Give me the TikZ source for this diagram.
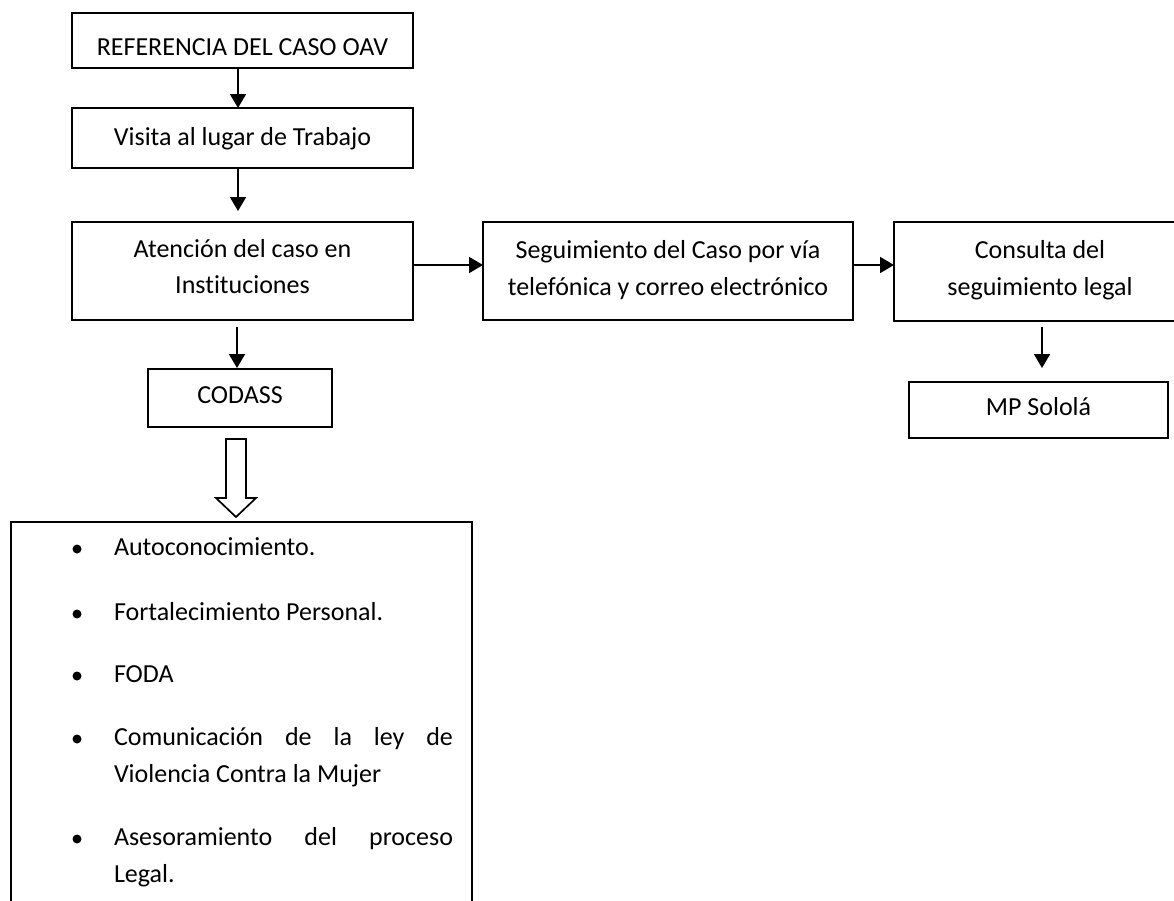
\documentclass[tikz,border=0pt]{standalone}
\usepackage{fontspec}
\setmainfont[Ligatures={NoCommon}]{Carlito}
\usetikzlibrary{arrows.meta}
\tikzset{
  box/.style={draw, line width=1.7pt, inner sep=0pt, outer sep=0pt},
  openbox/.style={inner sep=0pt, outer sep=0pt},
  txt/.style={inner sep=0pt, outer sep=0pt, anchor=base, font=\fontsize{26}{31}\selectfont},
  itm/.style={inner sep=0pt, outer sep=0pt, anchor=base west, font=\fontsize{26}{31}\selectfont},
  arr/.style={line width=1.8pt, -{Triangle[length=14pt,width=16pt]}},
  bul/.style={fill=black, circle, inner sep=0pt, minimum size=9pt}
}
\begin{document}
\begin{tikzpicture}[x=1pt,y=-1pt]
\useasboundingbox (0,0) rectangle (1174,900);
\clip (0,0) rectangle (1174,900);
% boxes
\node[box, minimum width=341pt, minimum height=55pt] (b1) at (242.5,40.5) {};
\node[box, minimum width=341pt, minimum height=60pt] (b2) at (242.5,138) {};
\node[box, minimum width=341pt, minimum height=98pt] (b3) at (242.5,271) {};
\node[box, minimum width=370pt, minimum height=98pt] (b4) at (668,271) {};
\node[openbox, minimum width=320pt, minimum height=99pt] (b5) at (1054,271.5) {};
\draw[line width=1.7pt] (b5.north east) -- (b5.north west) -- (b5.south west) -- (b5.south east);
\node[box, minimum width=259pt, minimum height=56pt] (b6) at (1038.5,410) {};
\node[box, minimum width=184pt, minimum height=58pt] (cod) at (240,398) {};
% texts
\node[txt] (t1) at (242.5,55) {REFERENCIA DEL CASO OAV};
\node[txt] (t2) at (242.5,145) {Visita al lugar de Trabajo};
\node[txt] (t3a) at (242.5,257) {Atención del caso en};
\node[txt] (t3b) at (242.5,293) {Instituciones};
\node[txt] (t4a) at (668,258) {Seguimiento del Caso por vía};
\node[txt] (t4b) at (668,295) {telefónica y correo electrónico};
\node[txt] (t5a) at (1040,258) {Consulta del};
\node[txt] (t5b) at (1040,295) {seguimiento legal};
\node[txt] (t6) at (1038.5,415) {MP Sololá};
\node[txt] (tc) at (240,403) {CODASS};
% connectors
\coordinate (vx) at (238,0);
\coordinate (vc) at (237,0);
\coordinate (v5) at (1042,0);
\coordinate (hy) at (0,265);
\draw[arr] (b1.south -| vx) -- (b2.north -| vx);
\draw[arr, shorten >=11pt] (b2.south -| vx) -- (b3.north -| vx);
\draw[arr] (b3.east |- hy) -- (b4.west |- hy);
\draw[arr] (b4.east |- hy) -- (b5.west |- hy);
\draw[arr, shorten <=7pt, shorten >=1pt] (b3.south -| vc) -- (cod.north -| vc);
\draw[arr, shorten <=6pt, shorten >=14pt] (b5.south -| v5) -- (b6.north -| v5);
% hollow block arrow
\draw[line width=1.7pt, fill=white, line join=miter] (226,439) -- (246,439) -- (246,498) -- (256,498) -- (236,517) -- (216,498) -- (226,498) -- cycle;
% big list box (open at the bottom)
\draw[line width=1.7pt] (11,920) -- (11,522) -- (472,522) -- (472,920);
% bullets
\node[bul] (k1) at (77,549) {};
\node[bul] (k2) at (77,614) {};
\node[bul] (k3) at (77,676) {};
\node[bul] (k4) at (77,739) {};
\node[bul] (k5) at (77,839) {};
\node[itm] (i1) at (114,555) {Autoconocimiento.};
\node[itm] (i2) at (114,620) {Fortalecimiento Personal.};
\node[itm] (i3) at (114,682) {FODA};
\node[itm] (i4a) at (114,745) {\makebox[339pt][s]{Comunicación de la ley de}};
\node[itm] (i4b) at (114,782) {Violencia Contra la Mujer};
\node[itm] (i5a) at (114,845) {\makebox[339pt][s]{Asesoramiento del proceso}};
\node[itm] (i5b) at (114,882) {Legal.};
\end{tikzpicture}
\end{document}
